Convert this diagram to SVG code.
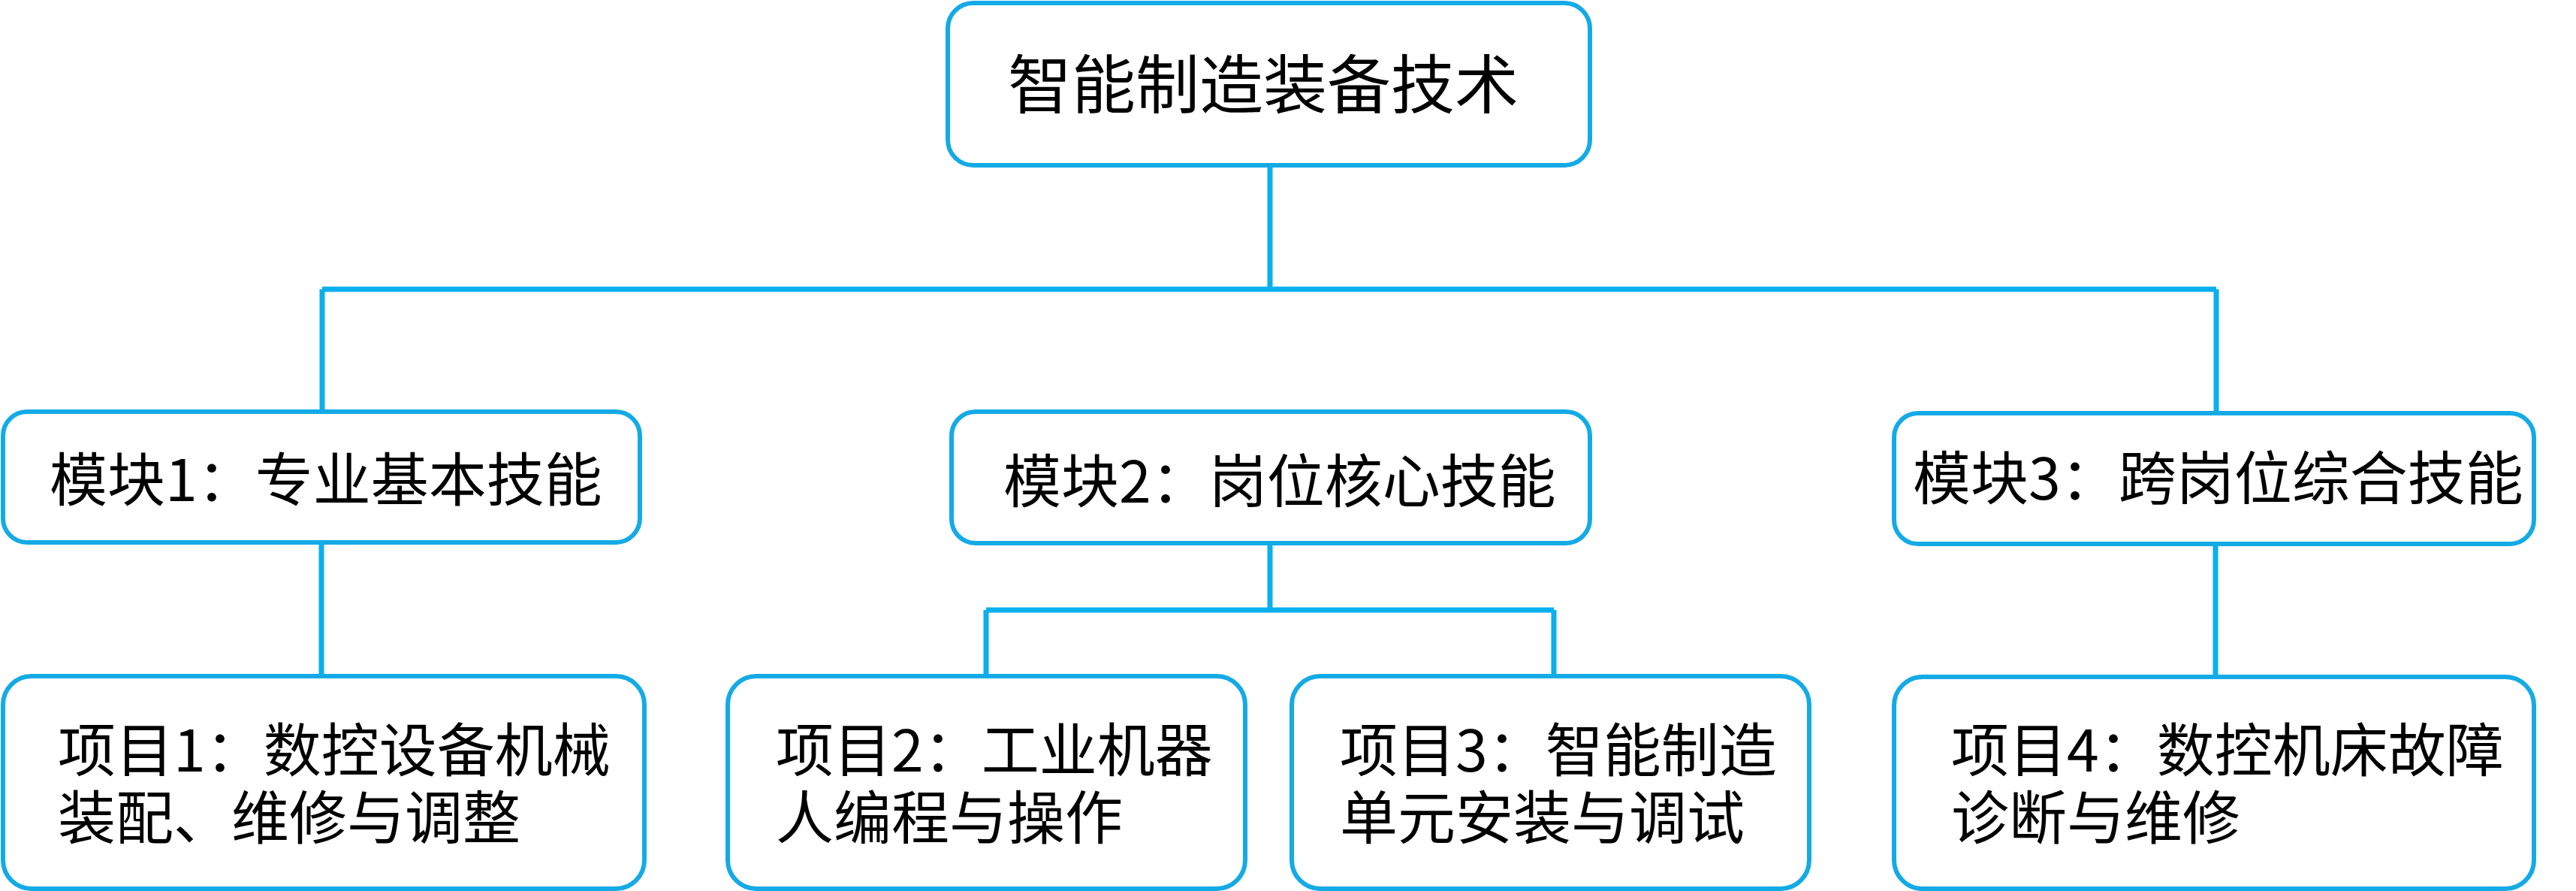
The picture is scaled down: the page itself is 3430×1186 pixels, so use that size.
<svg xmlns="http://www.w3.org/2000/svg" width="3430" height="1186" viewBox="0 0 3430 1186">
<style>
.box{fill:#FFFFFF;stroke:#14AAE6;stroke-width:6}
.ln{fill:none;stroke:#0AB0EE;stroke-width:7}
.t{font-family:"Noto Sans CJK SC","Microsoft YaHei",sans-serif;fill:#000000;font-size:77px}
.tt{font-size:85px}
</style>
<rect width="3430" height="1186" fill="#FFFFFF"/>
<g id="connectors">
<path class="ln" d="M1691 220 V385 M429 385 H2951 M429 385 V548 M2951 385 V548"/>
<path class="ln" d="M428 722 V900"/>
<path class="ln" d="M1691 723 V812 M1313 812 H2069 M1313 812 V900 M2069 812 V900"/>
<path class="ln" d="M2950 724 V901"/>
</g>
<g id="root">
<rect class="box" x="1262" y="4" width="855" height="216" rx="34"/>
<text class="t tt" x="1342" y="144">智能制造装备技术</text>
</g>
<g id="module1">
<rect class="box" x="4" y="548" width="848" height="174" rx="32"/>
<text class="t" x="66" y="667">模块1：专业基本技能</text>
</g>
<g id="module2">
<rect class="box" x="1267" y="548" width="850" height="175" rx="32"/>
<text class="t" x="1336" y="669">模块2：岗位核心技能</text>
</g>
<g id="module3">
<rect class="box" x="2522" y="550" width="852" height="174" rx="32"/>
<text class="t" x="2547" y="665">模块3：跨岗位综合技能</text>
</g>
<g id="project1">
<rect class="box" x="4" y="900" width="854" height="283" rx="38"/>
<text class="t" x="77" y="1027">项目1：数控设备机械<tspan x="77" dy="90">装配、维修与调整</tspan></text>
</g>
<g id="project2">
<rect class="box" x="969" y="900" width="689" height="283" rx="38"/>
<text class="t" x="1033" y="1027">项目2：工业机器<tspan x="1033" dy="90">人编程与操作</tspan></text>
</g>
<g id="project3">
<rect class="box" x="1720" y="900" width="689" height="283" rx="38"/>
<text class="t" x="1784" y="1027">项目3：智能制造<tspan x="1784" dy="90">单元安装与调试</tspan></text>
</g>
<g id="project4">
<rect class="box" x="2522" y="901" width="852" height="282" rx="38"/>
<text class="t" x="2598" y="1027">项目4：数控机床故障<tspan x="2598" dy="90">诊断与维修</tspan></text>
</g>
</svg>
